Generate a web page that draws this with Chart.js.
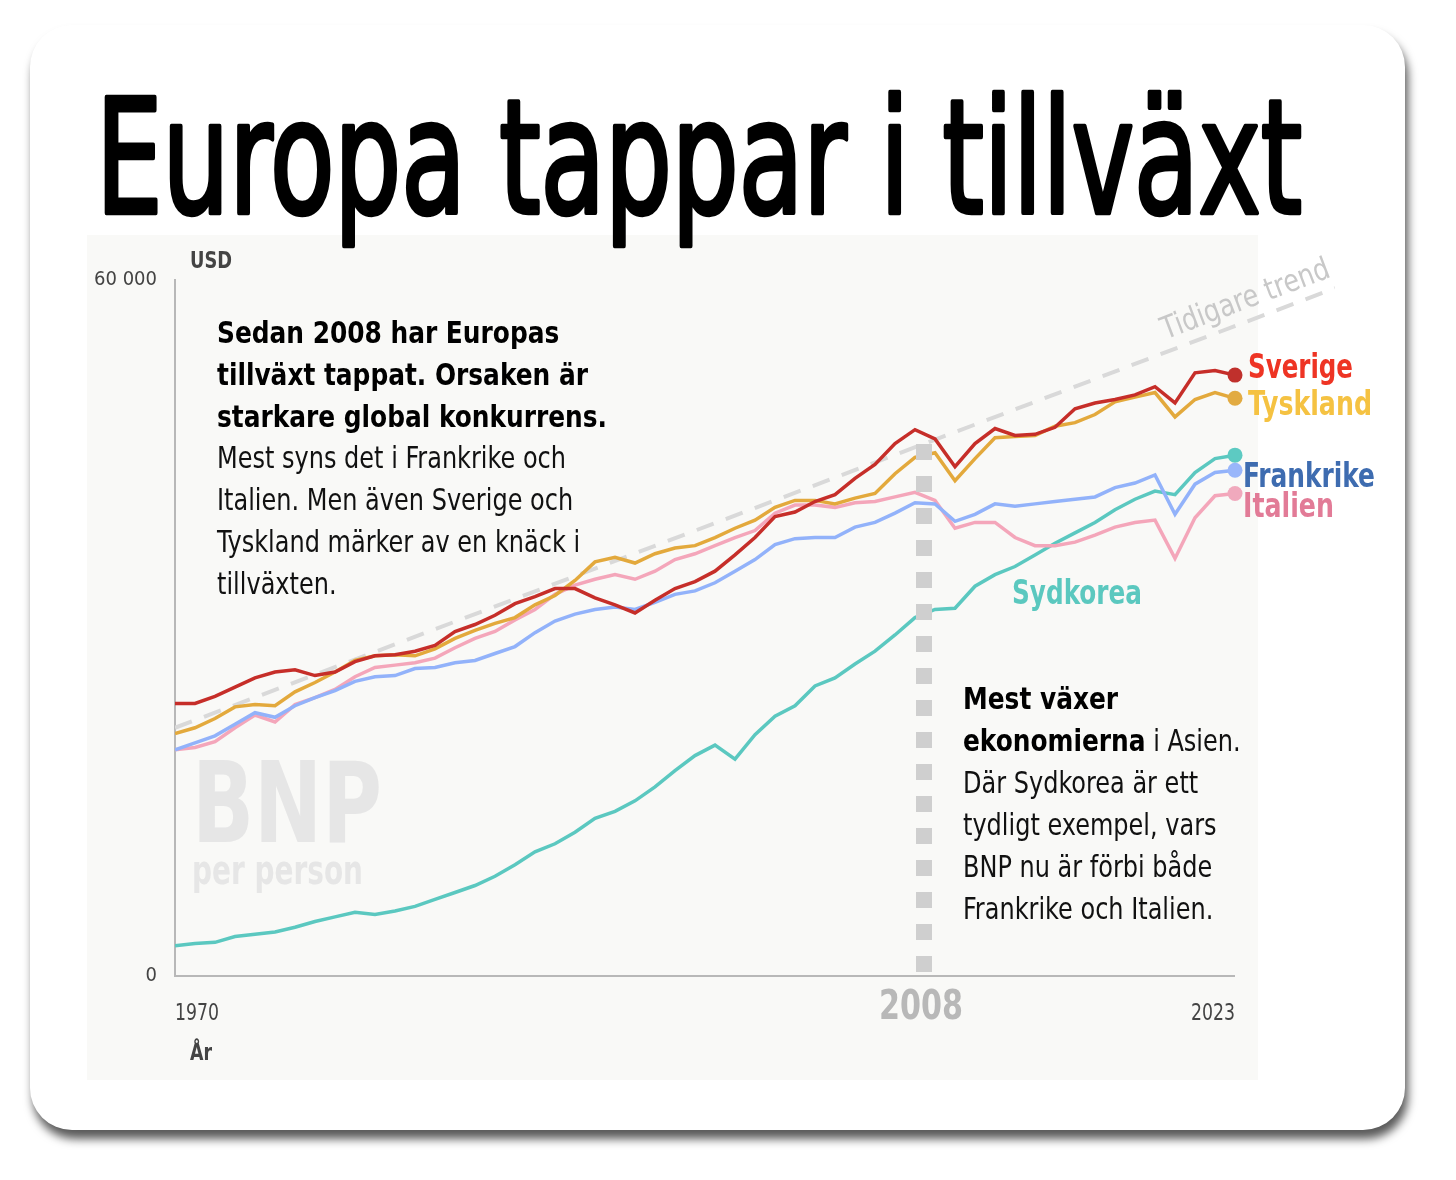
<!DOCTYPE html>
<html>
<head>
<meta charset="utf-8">
<script src="https://cdn.jsdelivr.net/npm/chart.js@4"></script>
<style>
html, body { margin: 0; padding: 0; background: #fff; }
#wrap { position: relative; width: 1456px; height: 1180px; overflow: hidden; }
#card { position: absolute; left: 30px; top: 25px; width: 1375px; height: 1105px; background: #fff;
        border-radius: 42px; box-shadow: 3px 9px 10px rgba(0,0,0,.65); }
#panel { position: absolute; left: 87px; top: 235px; width: 1171px; height: 845px; background: #f9f9f7; }
#box { position: absolute; left: 0; top: 0; width: 1456px; height: 1180px; }
</style>
</head>
<body>
<div id="wrap">
  <div id="card"></div>
  <div id="panel"></div>
  <div id="box"><canvas id="bnpCanvas"></canvas></div>
</div>
<script>
// BNP per person, USD
const years = [
  1970, 1971, 1972, 1973, 1974, 1975, 1976, 1977, 1978, 1979,
  1980, 1981, 1982, 1983, 1984, 1985, 1986, 1987, 1988, 1989,
  1990, 1991, 1992, 1993, 1994, 1995, 1996, 1997, 1998, 1999,
  2000, 2001, 2002, 2003, 2004, 2005, 2006, 2007, 2008, 2009,
  2010, 2011, 2012, 2013, 2014, 2015, 2016, 2017, 2018, 2019,
  2020, 2021, 2022, 2023
];

const sverige = [
  23500, 23500, 24100, 24900, 25700, 26200, 26400, 25900, 26200, 27100,
  27600, 27700, 28000, 28500, 29700, 30300, 31100, 32100, 32700, 33400,
  33400, 32600, 32000, 31300, 32400, 33400, 34000, 34900, 36300, 37800,
  39600, 40000, 40900, 41500, 42900, 44100, 45900, 47100, 46300, 43900,
  45900, 47200, 46600, 46700, 47300, 48900, 49400, 49700, 50100, 50800,
  49400, 52000, 52200, 51800
];

const tyskland = [
  20900, 21400, 22200, 23200, 23400, 23300, 24500, 25300, 26200, 27200,
  27600, 27700, 27600, 28200, 29100, 29800, 30400, 30900, 32000, 32800,
  34100, 35700, 36100, 35600, 36400, 36900, 37100, 37800, 38600, 39300,
  40400, 41000, 41000, 40700, 41200, 41600, 43300, 44700, 45100, 42700,
  44600, 46400, 46500, 46600, 47400, 47700, 48400, 49500, 49900, 50300,
  48200, 49700, 50300, 49800
];

const frankrike = [
  19500, 20100, 20700, 21700, 22700, 22300, 23300, 24000, 24600, 25400,
  25800, 25900, 26500, 26600, 27000, 27200, 27800, 28400, 29600, 30600,
  31200, 31600, 31800, 31600, 32200, 32900, 33200, 33900, 34900, 35900,
  37200, 37700, 37800, 37800, 38700, 39100, 39900, 40800, 40700, 39200,
  39800, 40700, 40500, 40700, 40900, 41100, 41300, 42100, 42500, 43200,
  39800, 42400, 43400, 43600
];

const italien = [
  19500, 19700, 20200, 21400, 22500, 21900, 23400, 24000, 24700, 25800,
  26600, 26800, 27000, 27400, 28300, 29100, 29700, 30700, 31600, 32900,
  33700, 34200, 34600, 34200, 34900, 35900, 36400, 37100, 37800, 38400,
  39900, 40600, 40600, 40400, 40800, 40900, 41300, 41700, 41000, 38600,
  39100, 39100, 37800, 37100, 37100, 37400, 38000, 38700, 39100, 39300,
  36000, 39500, 41400, 41600
];

const sydkorea = [
  2600, 2800, 2900, 3400, 3600, 3800, 4200, 4700, 5100, 5500,
  5300, 5600, 6000, 6600, 7200, 7800, 8600, 9600, 10700, 11400,
  12400, 13600, 14200, 15100, 16300, 17700, 19000, 19900, 18700, 20800,
  22400, 23300, 25000, 25700, 26900, 28000, 29400, 30900, 31600, 31700,
  33600, 34600, 35300, 36300, 37300, 38200, 39100, 40200, 41100, 41800,
  41500, 43400, 44600, 44900
];

const trendYears = [1970, 2028];
const trendValues = [21400, 59300];
const yTicks = [0, 60000];
const xLabels = [1970, 2023];
const markYear = 2008;

const FAM = '"Liberation Sans Narrow", "DejaVu Sans Condensed", Roboto, sans-serif';
Chart.defaults.font.family = FAM;

function pts(values) {
  return values.map((v, i) => ({ x: years[i], y: v }));
}

function lineSet(label, values, color, dot) {
  return {
    label: label,
    data: pts(values),
    borderColor: color,
    borderWidth: 3.5,
    pointBackgroundColor: dot,
    pointBorderWidth: 0,
    pointRadius: c => c.dataIndex === years.length - 1 ? 7.5 : 0,
    tension: 0
  };
}

// text squeezed to a given width (the original uses a condensed face)
function fitText(ctx, s, x, y, font, color, width, align, stroke) {
  ctx.save();
  ctx.font = font;
  ctx.fillStyle = color;
  ctx.textBaseline = 'alphabetic';
  const w = ctx.measureText(s).width;
  const sx = width / w;
  ctx.translate(x, y);
  ctx.scale(sx, 1);
  ctx.textAlign = align || 'left';
  ctx.fillText(s, 0, 0);
  if (stroke) {
    ctx.strokeStyle = color;
    ctx.lineWidth = stroke;
    ctx.lineJoin = 'round';
    ctx.strokeText(s, 0, 0);
  }
  ctx.restore();
}

function scaledText(ctx, s, x, y, font, color, sx) {
  ctx.save();
  ctx.font = font;
  ctx.fillStyle = color;
  ctx.translate(x, y);
  ctx.scale(sx, 1);
  ctx.fillText(s, 0, 0);
  const w = ctx.measureText(s).width * sx;
  ctx.restore();
  return w;
}

function measure(ctx, font, s) {
  ctx.save();
  ctx.font = font;
  const w = ctx.measureText(s).width;
  ctx.restore();
  return w;
}

const introBold = ['Sedan 2008 har Europas', 'tillväxt tappat. Orsaken är', 'starkare global konkurrens.'];
const introText = ['Mest syns det i Frankrike och', 'Italien. Men även Sverige och', 'Tyskland märker av en knäck i', 'tillväxten.'];
const asiaText = [
  [['Mest växer', true]],
  [['ekonomierna', true], [' i Asien.', false]],
  [['Där Sydkorea är ett', false]],
  [['tydligt exempel, vars', false]],
  [['BNP nu är förbi både', false]],
  [['Frankrike och Italien.', false]]
];

const seriesLabels = [
  { t: 'Sverige',   x: 1248, y: 378, w: 105, c: '#ee3424' },
  { t: 'Tyskland',  x: 1248, y: 415, w: 124, c: '#f5c242' },
  { t: 'Frankrike', x: 1243, y: 487, w: 132, c: '#3e6cb0' },
  { t: 'Italien',   x: 1243, y: 517, w: 91,  c: '#e27b97' },
  { t: 'Sydkorea',  x: 1012, y: 604, w: 130, c: '#5bc8bf' }
];

const decor = {
  id: 'decor',
  beforeDatasetsDraw(chart) {
    const ctx = chart.ctx;
    fitText(ctx, 'BNP', 192, 842, '700 112px ' + FAM, '#e6e6e6', 190);
    fitText(ctx, 'per person', 192, 884, '700 40px ' + FAM, '#e6e6e6', 171);
  },
  afterDatasetsDraw(chart) {
    const ctx = chart.ctx;
    const xs = chart.scales.x, ys = chart.scales.y;
    const y0 = ys.getPixelForValue(0);

    ctx.save();
    ctx.strokeStyle = '#b8b8b8';
    ctx.lineWidth = 2;
    ctx.beginPath();
    ctx.moveTo(xs.getPixelForValue(xLabels[0]) - 1, y0);
    ctx.lineTo(xs.getPixelForValue(xLabels[1]), y0);
    ctx.stroke();

    // dotted 2008 marker, sits a little left of the 2008 points
    const mx = xs.getPixelForValue(markYear) - 11;
    ctx.strokeStyle = '#cfcfcf';
    ctx.lineWidth = 16;
    ctx.setLineDash([16, 16]);
    ctx.beginPath();
    ctx.moveTo(mx, 444);
    ctx.lineTo(mx, 972);
    ctx.stroke();
    ctx.restore();

    // trend label along the dashed line
    const tx = xs.getPixelForValue(2023.9);
    const ty = ys.getPixelForValue(trendValues[0] + (trendValues[1] - trendValues[0]) * (2023.9 - trendYears[0]) / (trendYears[1] - trendYears[0]));
    const ang = Math.atan2(ys.getPixelForValue(trendValues[1]) - ys.getPixelForValue(trendValues[0]),
                           xs.getPixelForValue(trendYears[1]) - xs.getPixelForValue(trendYears[0]));
    ctx.save();
    ctx.translate(tx, ty);
    ctx.rotate(ang);
    fitText(ctx, 'Tidigare trend', 0, -12, '400 31px ' + FAM, '#c8c8c8', 178, 'center');
    ctx.restore();

    // axis words
    fitText(ctx, 'USD', 190, 268, '700 23px ' + FAM, '#444', 42);
    fitText(ctx, 'År', 190, 1060, '700 23px ' + FAM, '#444', 22);
    fitText(ctx, String(xLabels[0]), xs.getPixelForValue(xLabels[0]), 1020, '400 23px ' + FAM, '#444', 44);
    fitText(ctx, String(xLabels[1]), xs.getPixelForValue(xLabels[1]), 1020, '400 23px ' + FAM, '#444', 44, 'right');
    fitText(ctx, String(markYear), mx - 3, 1019, '700 40px ' + FAM, '#b8b8b8', 84, 'center');

    seriesLabels.forEach(l => fitText(ctx, l.t, l.x, l.y, '700 34px ' + FAM, l.c, l.w));

    // text blocks
    const fb = '700 31px ' + FAM, fr = '400 31px ' + FAM;
    const sxB = 390 / measure(ctx, fb, introBold[2]);
    const sxR = 349 / measure(ctx, fr, introText[0]);
    let by = 343;
    introBold.forEach(s => { scaledText(ctx, s, 217, by, fb, '#000', sxB); by += 41.8; });
    introText.forEach(s => { scaledText(ctx, s, 217, by, fr, '#111', sxR); by += 41.8; });

    let ay = 709;
    asiaText.forEach(line => {
      let ax = 963;
      line.forEach(p => {
        ax += scaledText(ctx, p[0], ax, ay, p[1] ? fb : fr, p[1] ? '#000' : '#111', p[1] ? sxB : sxR);
      });
      ay += 42;
    });

    // title, regular face thickened a little
    fitText(ctx, 'Europa tappar i tillväxt', 96, 213, '400 158px ' + FAM, '#000', 1206, 'left', 4.5);
  }
};

const bnpChart = new Chart(document.getElementById('bnpCanvas'), {
  type: 'line',
  data: {
    datasets: [
      lineSet('Sverige', sverige, '#c62e29', '#c0302c'),
      lineSet('Tyskland', tyskland, '#e3a93c', '#e2ab42'),
      lineSet('Frankrike', frankrike, '#92b2fa', '#99b6fa'),
      lineSet('Italien', italien, '#f4a6ba', '#f0a9bd'),
      lineSet('Sydkorea', sydkorea, '#5bc8c0', '#5dcac2'),
      {
        label: 'Tidigare trend',
        data: trendYears.map((yr, i) => ({ x: yr, y: trendValues[i] })),
        borderColor: '#d9d9d9',
        borderWidth: 4,
        borderDash: [18, 13],
        pointRadius: 0,
        order: 1
      }
    ]
  },
  options: {
    responsive: true,
    maintainAspectRatio: false,
    animation: false,
    events: [],
    layout: { padding: { left: 75, right: 121, top: 280, bottom: 204 } },
    plugins: { legend: { display: false }, tooltip: { enabled: false } },
    scales: {
      x: { type: 'linear', min: 1970, max: 2028, display: false },
      y: {
        min: 0,
        max: 60000,
        afterBuildTicks: s => { s.ticks = yTicks.map(v => ({ value: v })); },
        afterFit: s => { s.width = 100; },
        grid: { display: false },
        border: { display: true, color: '#b8b8b8', width: 2 },
        ticks: {
          padding: 10,
          color: '#444',
          font: { size: 20 },
          callback: v => String(v).replace(/\B(?=(\d{3})+(?!\d))/g, ' ')
        }
      }
    }
  },
  plugins: [decor]
});
</script>
</body>
</html>
